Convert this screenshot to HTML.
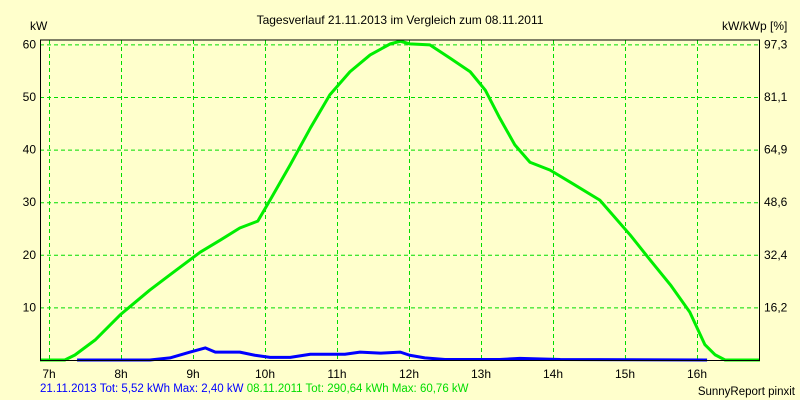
<!DOCTYPE html>
<html><head><meta charset="utf-8"><style>
body{margin:0;background:#FFFFCC;}
svg{display:block;font-family:"Liberation Sans",sans-serif;font-size:12px;}
</style></head><body>
<svg id="chart" width="800" height="400">
<rect width="800" height="400" fill="#FFFFCC"/>
<text x="400" y="24" text-anchor="middle">Tagesverlauf 21.11.2013 im Vergleich zum 08.11.2011</text>
<text x="30" y="30">kW</text>
<text x="722" y="30">kW/kWp [%]</text>
<g id="grid"></g><g id="series"></g><g id="labels"></g>
<line x1="40" y1="40" x2="760" y2="40" stroke="#000"/>
<line x1="40.5" y1="40" x2="40.5" y2="360" stroke="#000"/>
<line x1="759.5" y1="40" x2="759.5" y2="360" stroke="#000"/>
<line x1="40" y1="360.5" x2="760" y2="360.5" stroke="#000"/>
<text x="40" y="392" font-size="11.5"><tspan fill="#0000FF">21.11.2013 Tot: 5,52 kWh Max: 2,40 kW</tspan><tspan fill="#00DD00"> 08.11.2011 Tot: 290,64 kWh Max: 60,76 kW</tspan></text>
<text x="795" y="395" text-anchor="end" font-size="11.5">SunnyReport pinxit</text>
</svg>
<script>
const hourTicks=[7,8,9,10,11,12,13,14,15,16];
const kwTicks=[10,20,30,40,50,60];
const pctLabels=["16,2","32,4","48,6","64,9","81,1","97,3"];
const greenHours=[6.875,7.22,7.36,7.64,7.99,8.40,8.68,9.10,9.38,9.65,9.90,10.07,10.35,10.63,10.90,11.18,11.46,11.74,11.88,12.01,12.29,12.57,12.85,13.06,13.26,13.47,13.68,13.96,14.24,14.65,15.07,15.35,15.63,15.90,16.11,16.25,16.39,16.875];
const greenKw=[0,0,0.95,3.8,8.6,13.3,16.2,20.5,22.8,25.1,26.4,30.4,37.1,44.1,50.4,54.8,58.0,60.1,60.6,60.1,59.9,57.4,54.8,51.3,46.0,40.9,37.6,36.1,33.8,30.4,23.8,19.0,14.3,9.1,2.9,1.0,0,0];
const blueHours=[7.39,8.40,8.68,8.96,9.17,9.31,9.65,9.86,10.07,10.35,10.63,11.11,11.32,11.60,11.88,12.01,12.22,12.50,13.26,13.54,14.10,16.14];
const blueKw=[0,0,0.4,1.5,2.3,1.5,1.5,0.9,0.5,0.5,1.1,1.1,1.5,1.3,1.5,0.9,0.4,0.1,0.1,0.3,0.1,0];
const NS="http://www.w3.org/2000/svg";
const xS=h=>49+(h-7)*72, yS=v=>360-v*5.26;
function mk(t,a,p){const e=document.createElementNS(NS,t);for(const k in a)e.setAttribute(k,a[k]);p.appendChild(e);return e;}
const grid=document.getElementById('grid'),lab=document.getElementById('labels'),ser=document.getElementById('series');
hourTicks.forEach(h=>{
 const l=mk('line',{x1:xS(h)+0.5,x2:xS(h)+0.5,y1:40,y2:360,stroke:'#00DD00','stroke-dasharray':'4,3'},grid);
 
 
 const t=mk('text',{x:xS(h),y:378,'text-anchor':'middle'},lab);t.textContent=h+'h';
 
 
});
kwTicks.forEach((v,i)=>{
 const l=mk('line',{x1:40,x2:760,y1:yS(v)+0.5,y2:yS(v)+0.5,stroke:'#00DD00','stroke-dasharray':'4,3'},grid);
 
 
 const t=mk('text',{x:36,y:yS(v)+4,'text-anchor':'end'},lab);t.textContent=v;
 
 
 const r=mk('text',{x:764,y:yS(v)+4},lab);r.textContent=pctLabels[i];
 
 
});
function line(hs,vs,c,name){
 const p=mk('polyline',{points:hs.map((h,i)=>xS(h)+','+yS(vs[i])).join(' '),fill:'none',stroke:c,'stroke-width':3,'stroke-linejoin':'round'},ser);
 
 
}
line(greenHours,greenKw,'#00EE00','series-08-11-2011');
line(blueHours,blueKw,'#0000FF','series-21-11-2013');
</script>
</body></html>
